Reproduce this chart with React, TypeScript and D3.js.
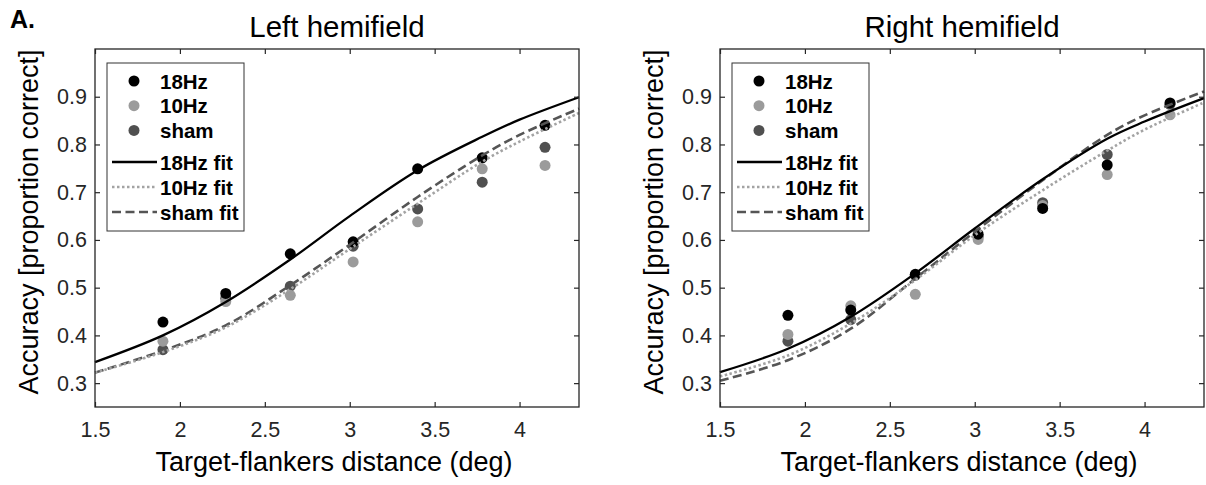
import React, { useEffect, useRef } from 'react';
import * as d3 from 'd3';

// distances where accuracy was measured (deg)
const distances = [1.9, 2.27, 2.65, 3.02, 3.4, 3.78, 4.15];

// left hemifield, measured accuracy
const left18Hz = [0.428, 0.488, 0.571, 0.596, 0.749, 0.772, 0.84];
const left10Hz = [0.388, 0.471, 0.484, 0.554, 0.638, 0.749, 0.756];
const leftSham = [0.37, 0.478, 0.503, 0.587, 0.665, 0.721, 0.794];

// right hemifield, measured accuracy
const right18Hz = [0.442, 0.453, 0.528, 0.612, 0.666, 0.757, 0.887];
const right10Hz = [0.402, 0.462, 0.486, 0.601, 0.672, 0.737, 0.862];
const rightSham = [0.388, 0.433, 0.526, 0.607, 0.678, 0.779, 0.884];

// fitted curves at these distances
const fitX = [1.5, 1.9, 2.27, 2.65, 3.0, 3.4, 3.78, 4.0, 4.35];
const leftFit18Hz = [0.344, 0.4, 0.47, 0.559, 0.65, 0.746, 0.816, 0.852, 0.899];
const leftFit10Hz = [0.322, 0.365, 0.417, 0.497, 0.581, 0.676, 0.764, 0.806, 0.866];
const leftFitSham = [0.322, 0.368, 0.421, 0.505, 0.59, 0.69, 0.777, 0.82, 0.875];
const rightFit18Hz = [0.323, 0.372, 0.439, 0.53, 0.624, 0.727, 0.812, 0.848, 0.897];
const rightFit10Hz = [0.314, 0.358, 0.425, 0.516, 0.61, 0.704, 0.787, 0.831, 0.888];
const rightFitSham = [0.305, 0.348, 0.414, 0.519, 0.617, 0.725, 0.82, 0.861, 0.911];

const xTicks = [1.5, 2, 2.5, 3, 3.5, 4];
const yTicks = [0.3, 0.4, 0.5, 0.6, 0.7, 0.8, 0.9];
const titles = ['Left hemifield', 'Right hemifield'];
const seriesNames = ['18Hz', '10Hz', 'sham'];
const fitNames = ['18Hz fit', '10Hz fit', 'sham fit'];

const width = 1206;
const height = 485;
const plotTop = 49;
const plotBottom = 407;
const plotW = 484;
const panelLeft = [95, 720];
const font = "'Liberation Sans', Arial, Helvetica, sans-serif";
const axisColor = '#262626';
const pointColors = ['#000000', '#9b9b9b', '#505050'];
const fitColors = ['#000000', '#a3a3a3', '#555555'];
const fitDash = ['none', '2.5,2.5', '9,4.5'];

const panels = [
  { points: [left18Hz, left10Hz, leftSham], fits: [leftFit18Hz, leftFit10Hz, leftFitSham] },
  { points: [right18Hz, right10Hz, rightSham], fits: [rightFit18Hz, rightFit10Hz, rightFitSham] },
];

export default function App() {
  const ref = useRef<SVGSVGElement>(null);

  useEffect(() => {
    const svg = d3.select(ref.current);
    svg.selectAll('*').remove();

    svg
      .append('text')
      .attr('x', 10)
      .attr('y', 28)
      .attr('font-family', font)
      .attr('font-weight', 'bold')
      .attr('font-size', 25)
      .text('A.');

    panels.forEach((panel, pi) => {
      const x0 = panelLeft[pi];
      const x = d3.scaleLinear().domain([1.5, 4.35]).range([x0, x0 + plotW]);
      const y = d3.scaleLinear().domain([0.25, 1.0]).range([plotBottom, plotTop]);
      const g = svg.append('g');

      // points: sham first, 18Hz on top
      [2, 1, 0].forEach((si) => {
        g.append('g')
          .selectAll('circle')
          .data(panel.points[si])
          .enter()
          .append('circle')
          .attr('cx', (d, i) => x(distances[i]))
          .attr('cy', (d) => y(d))
          .attr('r', 5.5)
          .attr('fill', pointColors[si]);
      });

      // fitted curves
      const line = d3
        .line<number>()
        .x((d, i) => x(fitX[i]))
        .y((d) => y(d))
        .curve(d3.curveCatmullRom.alpha(0.5));

      [2, 1, 0].forEach((si) => {
        g.append('path')
          .attr('d', line(panel.fits[si]))
          .attr('fill', 'none')
          .attr('stroke', fitColors[si])
          .attr('stroke-width', si === 0 ? 2.3 : 2.6)
          .attr('stroke-dasharray', fitDash[si]);
      });

      // axes, MATLAB style with inward ticks on all sides
      const styleAxis = (a: any) => {
        a.select('.domain').remove();
        a.selectAll('line').attr('stroke', axisColor).attr('stroke-width', 1.2);
        a.selectAll('text')
          .attr('fill', axisColor)
          .attr('font-size', 21.5)
          .attr('font-family', font);
      };

      g.append('g')
        .attr('transform', 'translate(0,' + plotBottom + ')')
        .call(
          d3.axisBottom(x).tickValues(xTicks).tickSizeInner(-5).tickSizeOuter(0).tickPadding(15).tickFormat((d) => String(d))
        )
        .call(styleAxis);
      g.append('g')
        .attr('transform', 'translate(0,' + plotTop + ')')
        .call(d3.axisTop(x).tickValues(xTicks).tickSizeInner(-5).tickSizeOuter(0).tickFormat(() => ''))
        .call(styleAxis);
      g.append('g')
        .attr('transform', 'translate(' + x0 + ',0)')
        .call(
          d3.axisLeft(y).tickValues(yTicks).tickSizeInner(-5).tickSizeOuter(0).tickPadding(8).tickFormat((d) => (+d).toFixed(1))
        )
        .call(styleAxis);
      g.append('g')
        .attr('transform', 'translate(' + (x0 + plotW) + ',0)')
        .call(d3.axisRight(y).tickValues(yTicks).tickSizeInner(-5).tickSizeOuter(0).tickFormat(() => ''))
        .call(styleAxis);

      g.append('rect')
        .attr('x', x0)
        .attr('y', plotTop)
        .attr('width', plotW)
        .attr('height', plotBottom - plotTop)
        .attr('fill', 'none')
        .attr('stroke', axisColor)
        .attr('stroke-width', 1.3);

      // legend
      const lg = g.append('g');
      lg.append('rect')
        .attr('x', x0 + 12)
        .attr('y', 63)
        .attr('width', 137)
        .attr('height', 168)
        .attr('fill', '#ffffff')
        .attr('stroke', '#333333')
        .attr('stroke-width', 1);

      seriesNames.forEach((name, si) => {
        const ry = 81 + si * 24.7;
        lg.append('circle')
          .attr('cx', x0 + 39)
          .attr('cy', ry)
          .attr('r', 5.5)
          .attr('fill', pointColors[si]);
        lg.append('text')
          .attr('x', x0 + 65)
          .attr('y', ry + 7.5)
          .attr('font-family', font)
          .attr('font-weight', 'bold')
          .attr('font-size', 20.5)
          .text(name);
      });
      fitNames.forEach((name, si) => {
        const ry = 162 + si * 25;
        lg.append('line')
          .attr('x1', x0 + 17)
          .attr('x2', x0 + 62)
          .attr('y1', ry)
          .attr('y2', ry)
          .attr('stroke', fitColors[si])
          .attr('stroke-width', si === 0 ? 2.3 : 2.6)
          .attr('stroke-dasharray', fitDash[si]);
        lg.append('text')
          .attr('x', x0 + 65)
          .attr('y', ry + 7.5)
          .attr('font-family', font)
          .attr('font-weight', 'bold')
          .attr('font-size', 20.5)
          .text(name);
      });

      // titles and axis labels
      g.append('text')
        .attr('x', x0 + plotW / 2)
        .attr('y', 37)
        .attr('text-anchor', 'middle')
        .attr('font-family', font)
        .attr('font-size', 29.5)
        .text(titles[pi]);

      g.append('text')
        .attr('x', x0 + plotW / 2 - 3)
        .attr('y', 471)
        .attr('text-anchor', 'middle')
        .attr('font-family', font)
        .attr('font-size', 27)
        .text('Target-flankers distance (deg)');

      g.append('text')
        .attr('transform', 'translate(' + (x0 - 57) + ',222) rotate(-90)')
        .attr('text-anchor', 'middle')
        .attr('font-family', font)
        .attr('font-size', 27)
        .text('Accuracy [proportion correct]');
    });
  }, []);

  return (
    <svg
      ref={ref}
      width={width}
      height={height}
      style={{ position: 'absolute', left: 0, top: 0, background: '#ffffff' }}
    />
  );
}
